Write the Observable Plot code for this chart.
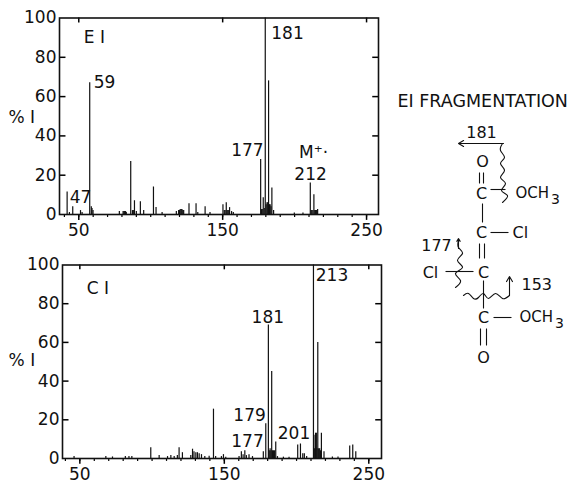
<!DOCTYPE html>
<html>
<head>
<meta charset="utf-8">
<script src="https://cdn.jsdelivr.net/npm/d3@7"></script>
<script src="https://cdn.jsdelivr.net/npm/@observablehq/plot@0.6"></script>
<style>
html,body{margin:0;padding:0;background:#fff}
#chart{position:relative;width:574px;height:483px;overflow:hidden}
#chart svg{position:absolute;left:0;background:transparent}
</style>
</head>
<body>
<div id="chart"></div>
<script>
const FONT = "DejaVu Sans";
const xTicks = [50,150,250];
const xMinor = [40,50,60,70,80,90,100,110,120,130,140,150,160,170,180,190,200,210,220,230,240,250];
const yLabels = [0,20,40,60,80,100];
const yInner = [20,40,60,80];

// EI spectrum: position on the printed axis, % intensity
const eiMz = [41.9,43.5,45.8,51.2,52.3,57.6,58.7,59.2,59.9,78.2,80.8,81.4,81.9,82.5,83,86.1,87.3,87.9,88.7,90,92.8,95.1,101.9,103.7,107.9,117.8,119.4,120,120.5,121.2,121.7,122.3,122.9,126.6,131.5,132.7,137.8,141.2,150.2,151.1,151.7,152.5,153.1,153.7,154.3,154.8,156.2,157.4,176.4,177,177.5,178.2,178.9,179.6,180.2,180.8,181.3,181.9,182.5,183,183.6,184.2,185.4,199.8,205.8,210.9,211.5,212,212.7,213.4,214,214.6,215.3,216];
const eiPct = [11.4,1,4,2,1,67,4,3,2,1.5,1.5,1.5,1.5,1.5,1,27,2,2,7,1.5,6.5,2,14,3.5,1,1.5,2,2,2.5,2.5,2.5,2,2,5.5,5.5,1,4,1,5,2,2,6,2,2,2,3.5,1.5,1,28,2.5,2.5,8.5,3,100,5,6,6,68,5,5,4,13.5,2,0.8,0.8,16,2,2,2,10,2,2,2,2.5];

// CI spectrum
const ciMz = [46,68,72.6,81.5,84,86,99.1,104.9,110.7,113,115.3,117.5,118.7,121,126.8,128,129,130.3,131.4,132.6,134.2,136.5,139.5,142.5,144,148,149.4,151,160.2,161.8,163,164.2,165.3,167.1,169.5,177,178.7,180.5,181.1,181.7,182.2,182.8,183.4,184,184.8,185.6,186.8,190.9,194.8,200.8,202.7,204.3,205.4,207,211.7,212.3,212.8,213.2,213.7,214.2,214.7,215.3,216,216.6,217.2,219,224.8,228.7,236.8,238.9,241];
const ciPct = [1,1,0.8,1,1,1,5.5,1.5,1,1.5,1,1.5,5.5,3,1.5,4.8,3.5,3,3,2.5,2,1,1.2,25.5,1,1,2,0.7,1,3.5,2,4,1.5,2,1,3.5,18,69,4,5,4,45,4,4,4,8.5,1,0.7,0.7,7,7.5,2.5,2.5,1,100,5,12,13,13,5,60,5,5,4,13,3.5,0.8,0.8,6.5,7,3.5];

// Peak annotations
const eiLabelText = ["59","47","E I","181","177","M⁺·","212"];
const eiLabelX = [60.4,43.75,53.5,183.8,178.5,213.2,211.1];
const eiLabelY = [67.3,8.7,90,92.3,32.7,31.5,20.5];
const eiLabelAnchor = ["start","start","start","start","end","middle","middle"];

const ciLabelText = ["C I","181","213","179","177","201"];
const ciLabelX = [54.8,180.1,213.3,178.7,177.3,187];
const ciLabelY = [88,72.7,94.3,22.2,8.8,12.9];
const ciLabelAnchor = ["start","middle","start","end","end","start"];

function spectrum({mz,pct,labels,lx,ly,la,xDomain,top,marginLeft,marginRight,marginTop,marginBottom,height,pctX,pctY}){
  const peaks = mz.map((m,i)=>({m,p:pct[i],base:0}));
  const notes = labels.map((t,i)=>({t,x:lx[i],y:ly[i],a:la[i]}));
  const [x0,x1] = xDomain;
  const leftTicks = yInner.map(y=>({y,a:x0,b:x0+4.5}));
  const rightTicks = yInner.map(y=>({y,a:x1-4,b:x1}));
  const topTicks = xTicks.map(x=>({x,a:100,b:97.5}));
  const minorTicks = xMinor.map(x=>({x,a:0,b:-1.5}));
  const majorTicks = xTicks.map(x=>({x,a:0,b:-3}));
  const p = Plot.plot({
    width:574,height,marginLeft,marginRight,marginTop,marginBottom,
    style:{fontFamily:FONT,fontSize:"17px",color:"#111",background:"transparent",overflow:"visible"},
    x:{domain:xDomain,label:null},
    y:{domain:[0,100],label:null},
    marks:[
      Plot.axisX({ticks:xTicks,tickSize:0,tickPadding:9,label:null,tickFormat:d=>String(d),fontSize:17,fill:"#111"}),
      Plot.axisY({ticks:yLabels,tickSize:0,tickPadding:3,label:null,tickFormat:d=>String(d),fontSize:17,fill:"#111"}),
      Plot.ruleX(peaks,{x:"m",y1:"base",y2:"p",stroke:"#111",strokeWidth:1.2}),
      Plot.ruleY(leftTicks,{y:"y",x1:"a",x2:"b",stroke:"#000",strokeWidth:1.5}),
      Plot.ruleY(rightTicks,{y:"y",x1:"a",x2:"b",stroke:"#000",strokeWidth:1.5}),
      Plot.ruleX(topTicks,{x:"x",y1:"a",y2:"b",stroke:"#000",strokeWidth:1.5}),
      Plot.ruleX(minorTicks,{x:"x",y1:"a",y2:"b",stroke:"#000",strokeWidth:1.2}),
      Plot.ruleX(majorTicks,{x:"x",y1:"a",y2:"b",stroke:"#000",strokeWidth:1.5}),
      Plot.frame({stroke:"#111",strokeWidth:1.6}),
      ...["start","middle","end"].map(a=>Plot.text(notes.filter(n=>n.a===a),{x:"x",y:"y",text:"t",textAnchor:a,fontSize:17,fill:"#111"})),
      Plot.text(["% I"],{x:[pctX],y:[pctY],fontSize:17,fill:"#111"})
    ]
  });
  p.style.top = top+"px";
  return p;
}

// Fragmentation scheme, drawn on a page-sized scale
const schemeText = ["EI FRAGMENTATION","181","O","C","OCH","3","C","Cl","C","Cl","177","153","C","OCH","3","O"];
const schemeX = [397,481,482,481,515,555,481,512,483,430,436,521,483,519,559,483];
const schemeY = [101,132,161,193,193,199,232,232,272,272,245,284,317,317,323,357];
const schemeAnchor = ["start","middle","middle","middle","start","middle","middle","start","middle","middle","middle","start","middle","start","middle","middle"];
const schemeSize = [17.5,16,16,16,15,14,16,16,16,16,16,16,16,15,14,16];

const bondX1 = [479,483,490,482,490,479,484,445,483,493,480,486];
const bondY1 = [172,172,189,203,232,243,243,271,280,317,328,328];
const bondX2 = [479,483,505,482,508,479,484,473,483,511,480,486];
const bondY2 = [183,183,189,222,232,258,258,271,308,317,345,345];

const wave1X = [502,500,504,500,504,500,505,501,507,502];
const wave1Y = [143,150,157,163,170,177,183,190,195,202];
const wave2X = [458,458,462,457,462,455,460,455];
const wave2Y = [240,247,253,260,267,273,280,287];
const wave3X = [463,468,473,478,483,488,495,502,509];
const wave3Y = [295,293,298,297,293,298,293,298,295];

const arrowX1 = [503,458,509];
const arrowY1 = [143,248,295];
const arrowX2 = [458,458,509];
const arrowY2 = [143,238,276];

const line = (xs,ys)=>Plot.line(xs.map((x,i)=>[x,ys[i]]),{x:"0",y:"1",curve:"natural",stroke:"#111",strokeWidth:1.1});

const scheme = Plot.plot({
  width:574,height:483,margin:0,
  style:{fontFamily:FONT,background:"transparent"},
  x:{domain:[0,574],axis:null},
  y:{domain:[0,483],reverse:false,range:[0,483],axis:null},
  marks:[
    Plot.link(bondX1.map((x,i)=>({x1:x,y1:bondY1[i],x2:bondX2[i],y2:bondY2[i]})),{x1:"x1",y1:"y1",x2:"x2",y2:"y2",stroke:"#111",strokeWidth:1.1}),
    line(wave1X,wave1Y),line(wave2X,wave2Y),line(wave3X,wave3Y),
    Plot.arrow(arrowX1.map((x,i)=>({x1:x,y1:arrowY1[i],x2:arrowX2[i],y2:arrowY2[i]})),{x1:"x1",y1:"y1",x2:"x2",y2:"y2",stroke:"#111",strokeWidth:1.1,headLength:8,bend:0}),
    ...schemeText.map((t,i)=>Plot.text([t],{x:[schemeX[i]],y:[schemeY[i]],textAnchor:schemeAnchor[i],fontSize:schemeSize[i],fill:"#111"}))
  ]
});
scheme.style.top="0px";

const root = document.getElementById("chart");
root.append(
  spectrum({mz:eiMz,pct:eiPct,labels:eiLabelText,lx:eiLabelX,ly:eiLabelY,la:eiLabelAnchor,xDomain:[36.6,258.3],top:0,height:245,marginLeft:59,marginRight:196,marginTop:17.5,marginBottom:31,pctX:10.4,pctY:49.5}),
  spectrum({mz:ciMz,pct:ciPct,labels:ciLabelText,lx:ciLabelX,ly:ciLabelY,la:ciLabelAnchor,xDomain:[38,258.8],top:240,height:243,marginLeft:62,marginRight:193,marginTop:24.5,marginBottom:25,pctX:9.9,pctY:50.5}),
  scheme
);
</script>
</body>
</html>
